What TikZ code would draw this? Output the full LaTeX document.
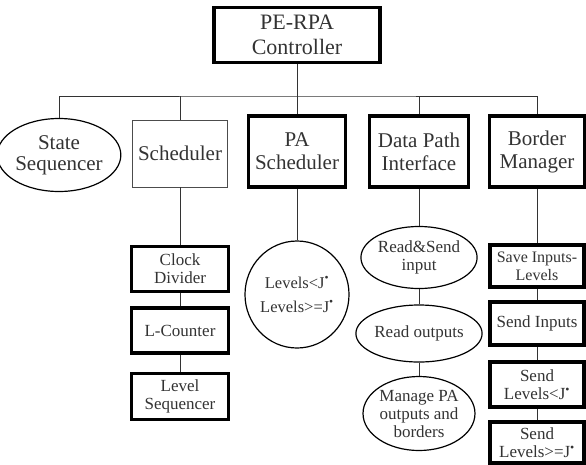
\documentclass[tikz,border=0pt]{standalone}
\usepackage{fontspec}
\setmainfont{Liberation Serif}
\usepackage{tikz}
\usetikzlibrary{positioning, shapes, calc}
\usepackage{xcolor}

\begin{document}
\begin{tikzpicture}[x=1pt, y=-1pt,
  bigbox/.style={draw, line width=3.5pt, inner sep=0pt, align=center, text=black!80, font=\fontsize{21}{23}\selectfont},
  thinbox/.style={draw, black!70, line width=0.8pt, inner sep=0pt, align=center, text=black!80, font=\fontsize{21}{23}\selectfont},
  subbox/.style={draw, line width=3.5pt, inner sep=0pt, align=center, text=black!80, font=\fontsize{17}{18}\selectfont},
  oval/.style={draw, ellipse, line width=1.2pt, inner sep=0pt, align=center, text=black!80, font=\fontsize{17}{18}\selectfont},
  link/.style={line width=0.9pt, black!80}]
\useasboundingbox (0,0) rectangle (586,464);

% Controller and bus
\node[bigbox, minimum width=166pt, minimum height=55pt, font=\fontsize{22}{25}\selectfont] (ctrl) at (297,35) {PE-RPA\\Controller};
\coordinate (bus) at (297,96);

% First level
\node[oval, minimum width=100pt, minimum height=73pt, font=\fontsize{21}{21}\selectfont] (stseq) at (59,155) {State\\Sequencer};
\node[thinbox, minimum width=95pt, minimum height=67pt] (sched) at (180,153.5) {Scheduler};
\node[bigbox, minimum width=97pt, minimum height=71pt] (pasched) at (297,151.5) {PA\\Scheduler};
\node[bigbox, minimum width=99pt, minimum height=71pt] (dpi) at (419,151.5) {Data Path\\Interface};
\node[bigbox, minimum width=95pt, minimum height=71pt] (bmgr) at (537,151.5) {Border\\Manager};

\draw[link] (ctrl) -- (bus);
\draw[link] (stseq.north) |- (bus) -| (bmgr.north);
\draw[link] (sched.north) -- (sched.north |- bus);
\draw[link] (pasched.north) -- (pasched.north |- bus);
\draw[link] (dpi.north) -- (dpi.north |- bus);

% Scheduler column
\node[subbox, minimum width=97pt, minimum height=45pt] (clkdiv) at (180,269) {Clock\\Divider};
\node[subbox, minimum width=97pt, minimum height=45pt] (lcnt) at (180,330.5) {L-Counter};
\node[subbox, minimum width=97pt, minimum height=46pt] (lvlseq) at (180,396.5) {Level\\Sequencer};
\draw[link] (sched) -- (clkdiv);
\draw[link] (clkdiv) -- (lcnt);
\draw[link] (lcnt) -- (lvlseq);

% PA scheduler levels
\node[oval, minimum width=101pt, minimum height=107pt, font=\fontsize{16.5}{24}\selectfont] (palev) at (297,294.5) {Levels<J\textsuperscript{\textbullet}\\Levels>=J\textsuperscript{\textbullet}};
\draw[link] (pasched) -- (palev);

% Data path tasks
\node[oval, minimum width=102pt, minimum height=62pt] (rds) at (419,257.5) {Read\&Send\\input};
\node[oval, minimum width=102pt, minimum height=57pt] (rdo) at (419,333.5) {Read outputs};
\node[oval, minimum width=104pt, minimum height=74pt] (mng) at (419,413.5) {Manage PA\\outputs and\\borders};
\draw[link] (dpi) -- (rds);
\draw[link] (rds) -- (rdo);
\draw[link] (rdo) -- (mng);

% Border manager tasks
\node[subbox, minimum width=94pt, minimum height=42pt, font=\fontsize{16}{18}\selectfont] (svin) at (537,266) {Save Inputs-\\Levels};
\node[subbox, minimum width=94pt, minimum height=43pt] (sdin) at (537,323.5) {Send Inputs};
\node[subbox, minimum width=94pt, minimum height=45pt] (sdlt) at (537,384.5) {Send\\Levels<J\textsuperscript{\textbullet}};
\node[subbox, minimum width=94pt, minimum height=41pt] (sdge) at (537,442.5) {Send\\Levels>=J\textsuperscript{\textbullet}};
\draw[link] (bmgr) -- (svin);
\draw[link] (svin) -- (sdin);
\draw[link] (sdin) -- (sdlt);
\draw[link] (sdlt) -- (sdge);
\end{tikzpicture}
\end{document}
